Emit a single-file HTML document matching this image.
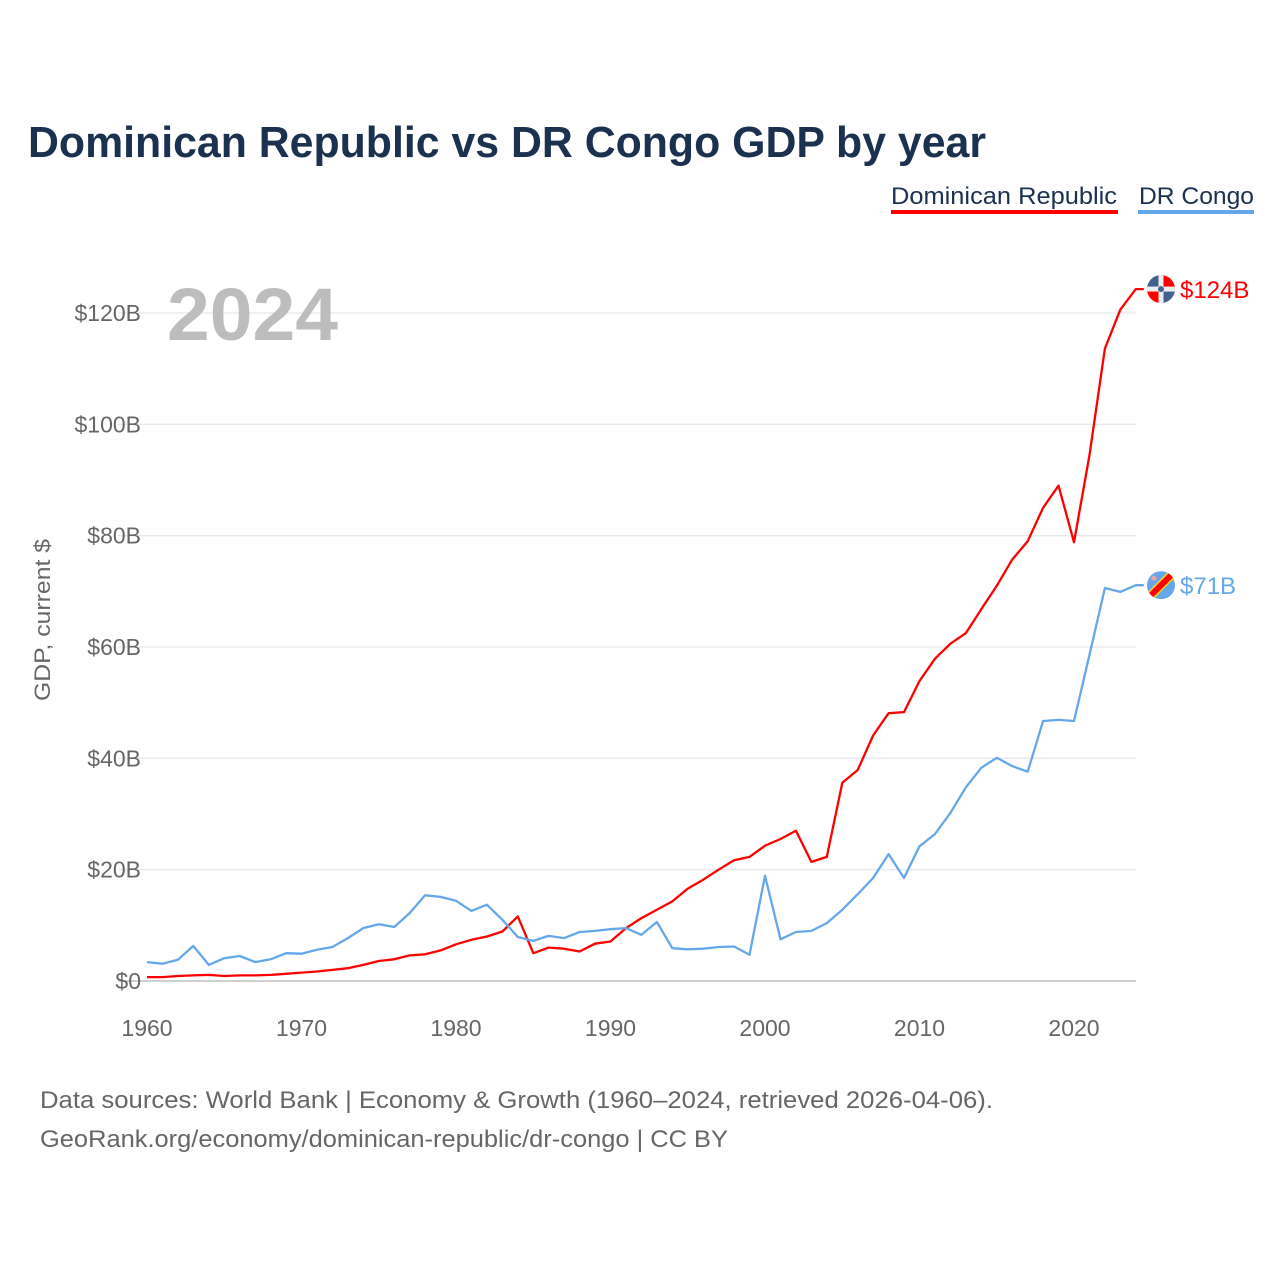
<!DOCTYPE html>
<html><head><meta charset="utf-8"><style>
body{margin:0;background:#fff;}
svg text{font-family:"Liberation Sans",sans-serif;}
</style></head><body>
<svg width="1280" height="1280" viewBox="0 0 1280 1280" xmlns="http://www.w3.org/2000/svg">
<text x="28" y="157" font-size="44" font-weight="bold" fill="#1b3150" textLength="958" lengthAdjust="spacingAndGlyphs">Dominican Republic vs DR Congo GDP by year</text>
<g>
<g><text x="891" y="204" font-size="24" fill="#1b3150" textLength="226" lengthAdjust="spacingAndGlyphs">Dominican Republic</text><rect x="891" y="210" width="227" height="4" fill="#ff0000"/></g>
<g><text x="1139" y="204" font-size="24" fill="#1b3150" textLength="115" lengthAdjust="spacingAndGlyphs">DR Congo</text><rect x="1138" y="210" width="116" height="4" fill="#64a8ea"/></g>
</g>
<g id="grid"></g>
<g id="yticks"></g>
<g id="xticks"></g>
<text x="167" y="340" font-size="74" font-weight="bold" fill="#bdbdbd" textLength="171" lengthAdjust="spacingAndGlyphs">2024</text>
<text transform="translate(50,620) rotate(-90)" text-anchor="middle" font-size="22" fill="#666" textLength="162" lengthAdjust="spacingAndGlyphs">GDP, current $</text>
<g id="series"></g>
<text x="40" y="1108" font-size="24" fill="#666" textLength="953" lengthAdjust="spacingAndGlyphs">Data sources: World Bank | Economy &amp; Growth (1960–2024, retrieved 2026-04-06).</text>
<text x="40" y="1147" font-size="24" fill="#666" textLength="688" lengthAdjust="spacingAndGlyphs">GeoRank.org/economy/dominican-republic/dr-congo | CC BY</text>
</svg>
<script>
const years=[];for(let y=1960;y<=2024;y++)years.push(y);
const domRep=[0.7,0.7,0.9,1.0,1.1,0.9,1.0,1.0,1.1,1.3,1.5,1.7,2.0,2.3,2.9,3.6,3.9,4.6,4.8,5.5,6.6,7.4,8.0,8.9,11.6,5.0,6.0,5.8,5.3,6.7,7.1,9.5,11.3,12.8,14.3,16.6,18.2,20.0,21.7,22.3,24.3,25.5,27.0,21.4,22.3,35.6,37.9,44.1,48.1,48.3,53.9,57.9,60.6,62.5,66.8,71.0,75.7,79.0,85.0,89.0,78.8,94.5,113.6,120.6,124.3];
const drCongo=[3.4,3.1,3.8,6.3,2.9,4.1,4.5,3.4,3.9,5.0,4.9,5.6,6.1,7.7,9.5,10.2,9.7,12.2,15.4,15.1,14.4,12.6,13.7,11.0,7.9,7.2,8.1,7.7,8.8,9.0,9.3,9.5,8.3,10.6,5.9,5.7,5.8,6.1,6.2,4.7,18.9,7.5,8.8,9.0,10.4,12.8,15.6,18.5,22.8,18.5,24.2,26.4,30.2,34.8,38.3,40.1,38.6,37.6,46.7,46.9,46.7,58.6,70.6,69.9,71.1];
const yTicks=[0,20,40,60,80,100,120];
const yTickLabels=["$0","$20B","$40B","$60B","$80B","$100B","$120B"];
const xTicks=[1960,1970,1980,1990,2000,2010,2020];
const endLabels=["$124B","$71B"];
const NS="http://www.w3.org/2000/svg";
const xs=y=>147+(y-1960)*(1074-147)/60;
const ys=v=>981-v*(981-313)/120;
function mk(tag,attrs,parent){const e=document.createElementNS(NS,tag);for(const k in attrs)e.setAttribute(k,attrs[k]);parent.appendChild(e);return e;}
const grid=document.getElementById('grid'),yt=document.getElementById('yticks'),xt=document.getElementById('xticks'),ser=document.getElementById('series');
yTicks.forEach((v,i)=>{
 const l=mk('line',{x1:118,x2:1136,y1:ys(v),y2:ys(v),stroke:v===0?'#d0d0d0':'#e8e8e8','stroke-width':v===0?2:1.3},grid);
 
 
 const t=mk('text',{x:141,y:ys(v)+8,'text-anchor':'end','font-size':23,fill:'#666'},yt);
 t.textContent=yTickLabels[i];
 
 
});
xTicks.forEach(y=>{
 const t=mk('text',{x:xs(y),y:1036,'text-anchor':'middle','font-size':23,fill:'#666'},xt);
 t.textContent=y;
 
 
});
function line(data,color,name){
 const pts=data.map((v,i)=>xs(years[i]).toFixed(1)+','+ys(v).toFixed(1));
 const last=data[data.length-1];
 pts.push((xs(2024)+8).toFixed(1)+','+ys(last).toFixed(1));
 const p=mk('polyline',{points:pts.join(' '),fill:'none',stroke:color,'stroke-width':2.3,'stroke-linejoin':'round'},ser);
 
 
}
line(domRep,'#ff0000','line-dominican-republic');
line(drCongo,'#64a8ea','line-dr-congo');
const cx=1161;
const y1=ys(domRep[domRep.length-1]);
const g1=mk('g',{},ser);


mk('clipPath',{id:'c1'},g1);
mk('circle',{cx:cx,cy:y1,r:14},g1.lastChild);
const f1=mk('g',{'clip-path':'url(#c1)'},g1);
mk('rect',{x:cx-14,y:y1-14,width:14,height:14,fill:'#41628f'},f1);
mk('rect',{x:cx,y:y1-14,width:14,height:14,fill:'#ff0000'},f1);
mk('rect',{x:cx-14,y:y1,width:14,height:14,fill:'#ff0000'},f1);
mk('rect',{x:cx,y:y1,width:14,height:14,fill:'#41628f'},f1);
mk('rect',{x:cx-2.5,y:y1-14,width:5,height:28,fill:'#eee'},f1);
mk('rect',{x:cx-14,y:y1-2.5,width:28,height:5,fill:'#eee'},f1);
mk('circle',{cx:cx,cy:y1,r:3,fill:'#41628f'},f1);
const t1=mk('text',{x:1180,y:y1+9,'font-size':24,fill:'#ff0000'},ser);
t1.textContent=endLabels[0];


const y2=ys(drCongo[drCongo.length-1]);
const g2=mk('g',{},ser);


mk('clipPath',{id:'c2'},g2);
mk('circle',{cx:cx,cy:y2,r:14},g2.lastChild);
const f2=mk('g',{'clip-path':'url(#c2)'},g2);
mk('rect',{x:cx-14,y:y2-14,width:28,height:28,fill:'#64a8ea'},f2);
mk('line',{x1:cx-16,y1:y2+16,x2:cx+16,y2:y2-16,stroke:'#f7d618','stroke-width':9},f2);
mk('line',{x1:cx-16,y1:y2+16,x2:cx+16,y2:y2-16,stroke:'#ff0000','stroke-width':6},f2);
mk('circle',{cx:cx-7,cy:y2-7,r:2.5,fill:'#f7a0a0'},f2);
const t2=mk('text',{x:1180,y:y2+9,'font-size':24,fill:'#64a8ea'},ser);
t2.textContent=endLabels[1];


</script>
</body></html>
